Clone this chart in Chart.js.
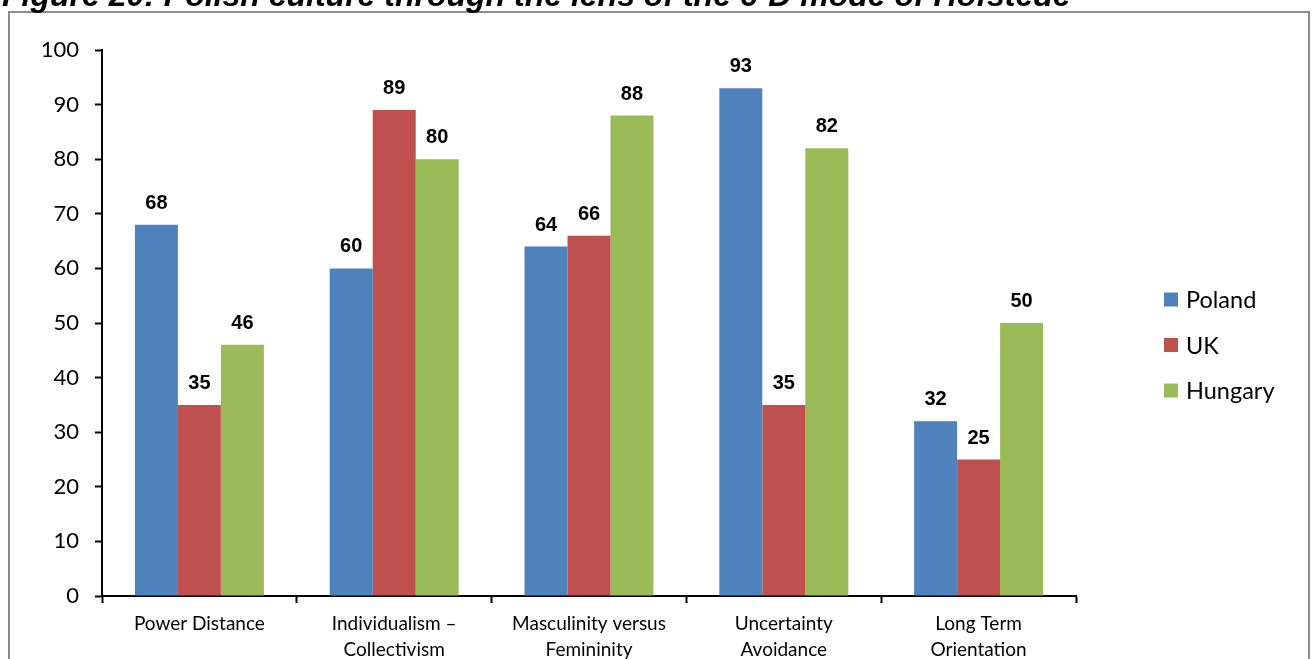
<!DOCTYPE html>
<html>
<head>
<meta charset="utf-8">
<title>Hofstede dimensions: Poland, UK, Hungary</title>
<script src="https://cdn.jsdelivr.net/npm/chart.js@4.4.1/dist/chart.umd.min.js"></script>
<style>
  html, body { margin: 0; padding: 0; background: #ffffff; }
  #wrap { width: 1315px; height: 659px; position: relative; overflow: hidden; }
</style>
</head>
<body>
<div id="wrap"><canvas id="c" width="1315" height="659"></canvas></div>
<script>
// Hofstede scores per dimension
const categories = [
  ['Power Distance'],
  ['Individualism \u2013', 'Collectivism'],
  ['Masculinity versus', 'Femininity'],
  ['Uncertainty', 'Avoidance'],
  ['Long Term', 'Orientation']
];
const poland  = [68, 60, 64, 93, 32];
const uk      = [35, 89, 66, 35, 25];
const hungary = [46, 80, 88, 82, 50];
const seriesNames = ['Poland', 'UK', 'Hungary'];
const seriesColors = ['#4F81BD', '#C0504D', '#9BBB59'];
const yTicks = [0, 10, 20, 30, 40, 50, 60, 70, 80, 90, 100];
const titleText = 'Figure 20: Polish culture through the lens of the 6-D mode of Hofstede';

const TICK_FONT = 'Lato, "Open Sans", sans-serif';

// Outer frame and the clipped figure caption
const framePlugin = {
  id: 'frame',
  beforeDraw(chart) {
    const ctx = chart.ctx;
    ctx.save();
    ctx.fillStyle = '#ffffff';
    ctx.fillRect(0, 0, chart.width, chart.height);
    ctx.strokeStyle = '#8c8c8c';
    ctx.lineWidth = 2;
    ctx.strokeRect(9, 12, 1300, 720);
    ctx.fillStyle = '#000000';
    ctx.font = 'italic bold 32px "Liberation Sans", Arial, sans-serif';
    ctx.textAlign = 'left';
    ctx.textBaseline = 'alphabetic';
    ctx.fillText(titleText, 2, 6);
    ctx.restore();
  }
};

// Value labels above each bar
const valueLabels = {
  id: 'valueLabels',
  afterDatasetsDraw(chart) {
    const ctx = chart.ctx;
    ctx.save();
    ctx.fillStyle = '#000000';
    ctx.font = 'bold 20px "Liberation Sans", Arial, sans-serif';
    ctx.textAlign = 'center';
    ctx.textBaseline = 'alphabetic';
    chart.data.datasets.forEach((ds, i) => {
      const meta = chart.getDatasetMeta(i);
      meta.data.forEach((bar, j) => {
        ctx.fillText(String(ds.data[j]), bar.x, bar.y - 16);
      });
    });
    ctx.restore();
  }
};

// Legend on the right, built from the datasets
const sideLegend = {
  id: 'sideLegend',
  afterDraw(chart) {
    const ctx = chart.ctx;
    const x0 = 1164, yMid = 345, gap = 45.5;
    const n = chart.data.datasets.length;
    ctx.save();
    ctx.font = '23.5px ' + TICK_FONT;
    ctx.textAlign = 'left';
    ctx.textBaseline = 'middle';
    chart.data.datasets.forEach((ds, i) => {
      const y = yMid + (i - (n - 1) / 2) * gap;
      ctx.fillStyle = ds.backgroundColor;
      ctx.fillRect(x0, y - 7, 14, 14);
      ctx.fillStyle = '#000000';
      ctx.fillText(ds.label, x0 + 22, y + 1);
    });
    ctx.restore();
  }
};

const datasets = [poland, uk, hungary].map((vals, i) => ({
  label: seriesNames[i],
  data: vals,
  backgroundColor: seriesColors[i],
  borderWidth: 0,
  categoryPercentage: 0.662,
  barPercentage: 1.0
}));

new Chart(document.getElementById('c'), {
  type: 'bar',
  data: { labels: categories, datasets },
  options: {
    responsive: false,
    animation: false,
    events: [],
    layout: { padding: { top: 50, right: 239, bottom: 0, left: 0 } },
    plugins: {
      legend: { display: false },
      title: { display: false },
      tooltip: { enabled: false }
    },
    scales: {
      x: {
        offset: true,
        grid: {
          offset: true,
          drawOnChartArea: false,
          drawTicks: true,
          tickLength: 7,
          tickWidth: 2,
          tickColor: '#000000'
        },
        border: { display: true, color: '#000000', width: 2 },
        ticks: {
          color: '#000000',
          font: { family: TICK_FONT, size: 19, lineHeight: '26px' },
          padding: 8,
          maxRotation: 0,
          autoSkip: false
        },
        afterFit(scale) { scale.height = 63; }
      },
      y: {
        min: 0,
        max: 100,
        afterBuildTicks(scale) { scale.ticks = yTicks.map(v => ({ value: v })); },
        grid: {
          drawOnChartArea: false,
          drawTicks: true,
          tickLength: 7,
          tickWidth: 2,
          tickColor: '#000000'
        },
        border: { display: true, color: '#000000', width: 2 },
        ticks: {
          color: '#000000',
          font: { family: TICK_FONT, size: 22 },
          padding: 16
        },
        afterFit(scale) { scale.width = 102; }
      }
    }
  },
  plugins: [framePlugin, valueLabels, sideLegend]
});
</script>
</body>
</html>
